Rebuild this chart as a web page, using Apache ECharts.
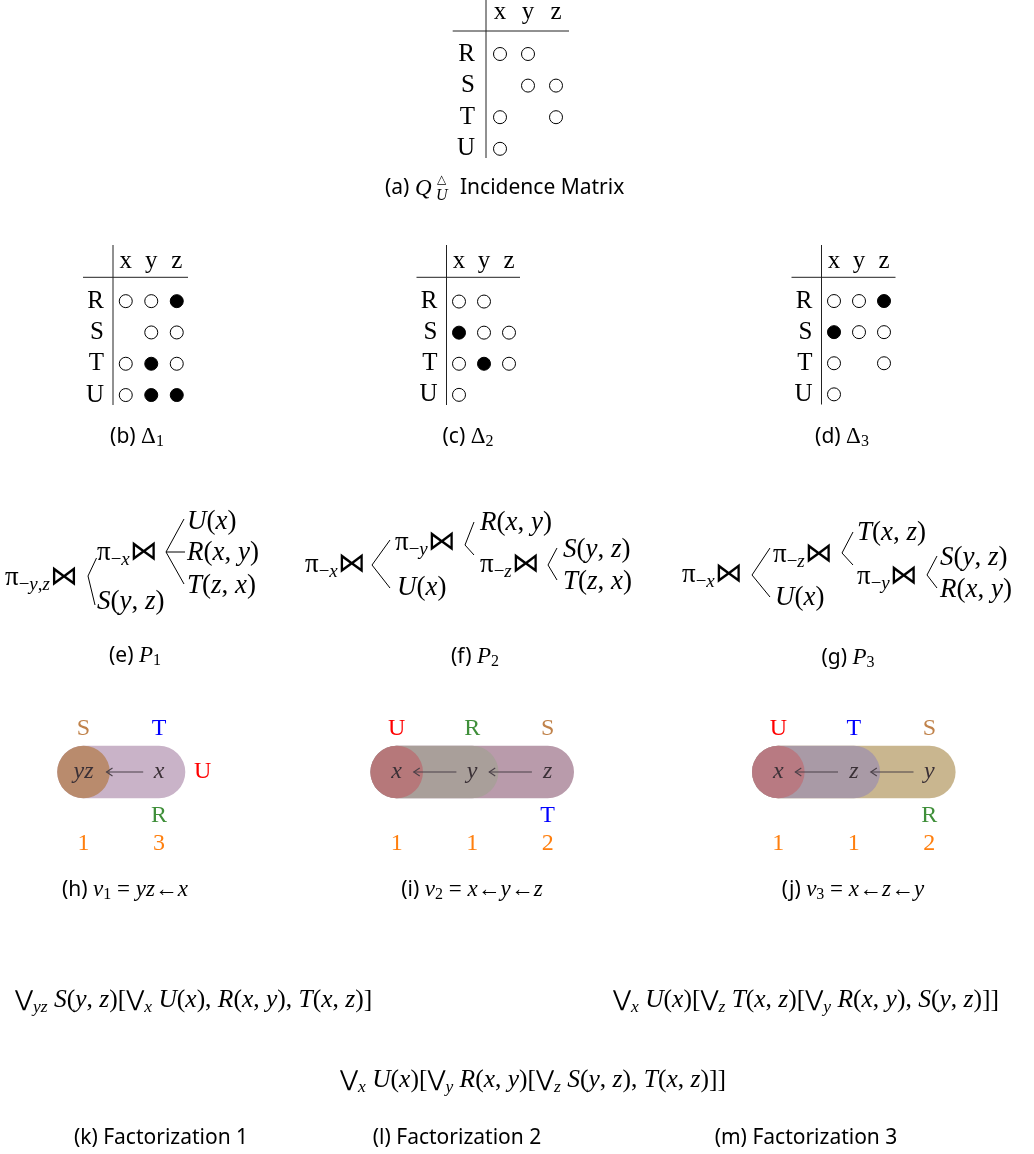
<!DOCTYPE html>
<html><head><meta charset="utf-8">
<script src="https://cdn.jsdelivr.net/npm/echarts@6.0.0/dist/echarts.min.js"></script>
<style>html,body{margin:0;padding:0;background:#fff;}#chart{width:1034px;height:1154px;}</style>
</head><body><div id="chart"></div>
<script>
// ================= DATA =================
const matrixCols = ['x', 'y', 'z'];
const matrixRows = ['R', 'S', 'T', 'U'];
// cells: [column, row, 1 = filled, 0 = open]
const cellsQ  = [['x','R',0],['y','R',0],['y','S',0],['z','S',0],['x','T',0],['z','T',0],['x','U',0]];
const cellsD1 = [['x','R',0],['y','R',0],['z','R',1],['y','S',0],['z','S',0],['x','T',0],['y','T',1],['z','T',0],['x','U',0],['y','U',1],['z','U',1]];
const cellsD2 = [['x','R',0],['y','R',0],['x','S',1],['y','S',0],['z','S',0],['x','T',0],['y','T',1],['z','T',0],['x','U',0]];
const cellsD3 = [['x','R',0],['y','R',0],['z','R',1],['x','S',1],['y','S',0],['z','S',0],['x','T',0],['z','T',0],['x','U',0]];

const treeP1 = ['π_{−y,z}⋈', 'π_{−x}⋈', 'S(y, z)', 'U(x)', 'R(x, y)', 'T(z, x)'];
const treeP2 = ['π_{−x}⋈', 'π_{−y}⋈', 'U(x)', 'R(x, y)', 'π_{−z}⋈', 'S(y, z)', 'T(z, x)'];
const treeP3 = ['π_{−x}⋈', 'π_{−z}⋈', 'U(x)', 'T(x, z)', 'π_{−y}⋈', 'S(y, z)', 'R(x, y)'];

// hypergraphs: nodes, hyperedges [from,to], arrows [from,to], relation labels [name,node,side], counts
const hg1Nodes = ['yz', 'x'];
const hg1Edges = [[0, 1], [0, 0]];
const hg1Arrows = [[1, 0]];
const hg1Labels = [['S', 0, 'top'], ['T', 1, 'top'], ['U', 1, 'right'], ['R', 1, 'bottom']];
const hg1Counts = [1, 3];

const hg2Nodes = ['x', 'y', 'z'];
const hg2Edges = [[0, 2], [0, 1], [0, 0]];
const hg2Arrows = [[1, 0], [2, 1]];
const hg2Labels = [['U', 0, 'top'], ['R', 1, 'top'], ['S', 2, 'top'], ['T', 2, 'bottom']];
const hg2Counts = [1, 1, 2];

const hg3Nodes = ['x', 'z', 'y'];
const hg3Edges = [[0, 2], [0, 1], [0, 0]];
const hg3Arrows = [[1, 0], [2, 1]];
const hg3Labels = [['U', 0, 'top'], ['T', 1, 'top'], ['S', 2, 'top'], ['R', 2, 'bottom']];
const hg3Counts = [1, 1, 2];

const factorK = '⋁_{yz} S(y, z)[⋁_x U(x), R(x, y), T(x, z)]';
const factorL = '⋁_x U(x)[⋁_y R(x, y)[⋁_z S(y, z), T(x, z)]]';
const factorM = '⋁_x U(x)[⋁_z T(x, z)[⋁_y R(x, y), S(y, z)]]';

const captionTags = ['(a)','(b)','(c)','(d)','(e)','(f)','(g)','(h)','(i)','(j)','(k)','(l)','(m)'];
const captionMath = ['', 'Δ_1', 'Δ_2', 'Δ_3', 'P_1', 'P_2', 'P_3', 'v_1 = yz←x', 'v_2 = x←y←z', 'v_3 = x←z←y', '', '', ''];
const captionText = ['Incidence Matrix', '', '', '', '', '', '', '', '', '', 'Factorization 1', 'Factorization 2', 'Factorization 3'];

// ================= STYLE =================
const SERIF = '"Liberation Serif", "DejaVu Serif", serif';
const SANS = '"Noto Sans", "Open Sans", sans-serif';
const SYM = '"DejaVu Sans", sans-serif';
const relColor = { U: '#ff0000', R: '#3f8f3a', S: '#c0824a', T: '#0000ff' };
const countColor = '#ff7f0e';
const hgFills = [
  ['#c9b3c8', '#b98b6d'],
  ['#b99bab', '#a99f9a', '#b6787a'],
  ['#c9b68f', '#a99aa6', '#b87a82']
];

function richSet(P, size, sub, shift, bsize) {
  const o = {};
  o[P + 'i'] = { fontFamily: SERIF, fontStyle: 'italic', fontSize: size, color: '#000', verticalAlign: 'middle' };
  o[P + 'r'] = { fontFamily: SERIF, fontSize: size, color: '#000', verticalAlign: 'middle' };
  o[P + 'b'] = { fontFamily: SYM, fontSize: bsize, color: '#000', verticalAlign: 'middle' };
  o[P + 'si'] = { fontFamily: SERIF, fontStyle: 'italic', fontSize: sub, color: '#000', verticalAlign: 'middle', padding: [shift * 2, 0, 0, 0] };
  o[P + 'sr'] = { fontFamily: SERIF, fontSize: sub, color: '#000', verticalAlign: 'middle', padding: [shift * 2, 0, 0, 0] };
  return o;
}
const RICH = Object.assign({ c: { fontFamily: SANS, fontSize: 21, color: '#000', verticalAlign: 'middle' } },
  richSet('T', 27, 19, 7, 28), richSet('F', 25.5, 17.5, 7, 22), richSet('K', 23, 16, 5, 23));

function fm(s, P) {
  const toks = [];
  const push = (st, t) => {
    if (toks.length && toks[toks.length - 1][0] === st) toks[toks.length - 1][1] += t;
    else toks.push([st, t]);
  };
  let i = 0;
  while (i < s.length) {
    const ch = s[i];
    if (ch === '_') {
      let t;
      if (s[i + 1] === '{') { const j = s.indexOf('}', i); t = s.slice(i + 2, j); i = j + 1; }
      else { t = s[i + 1]; i += 2; }
      for (const c of t) push(/[a-zA-Z]/.test(c) ? 'si' : 'sr', c);
      continue;
    }
    if (/[a-zA-Z]/.test(ch)) push('i', ch);
    else if (ch === '⋁' || ch === '⋈') push('b', ch);
    else push('r', ch);
    i++;
  }
  return toks.map(t => '{' + P + t[0] + '|' + t[1] + '}').join('');
}

const G = [];
function txt(x, y, text, align) {
  G.push({ type: 'text', x: x, y: y, silent: true,
    style: { text: text, rich: RICH, textAlign: align || 'left', textVerticalAlign: 'middle' } });
}
function ln(x1, y1, x2, y2, color) {
  G.push({ type: 'line', silent: true, shape: { x1, y1, x2, y2 }, style: { stroke: color || '#000', lineWidth: 1 } });
}

// ================= MATRICES =================
const matrixPanels = [
  { cells: cellsQ,  left: 486,   top: 38.2,  cw: 28,   rh: 31.6, padB: 13, lineUp: 38.2, lineDown: 6.6, hGap: 7.2, hLeft: 33.3, hRight: 1, margin: 11, topMargin: 13 },
  { cells: cellsD1, left: 113,   top: 285.5, cw: 25.5, rh: 31.3, padB: 4, lineUp: 40.5, lineDown: 5.7, hGap: 8.2, hLeft: 30, hRight: 1.5, margin: 9, topMargin: 12 },
  { cells: cellsD2, left: 446.5, top: 286,   cw: 25,   rh: 31.1, padB: 4, lineUp: 41, lineDown: 5.4, hGap: 8.7, hLeft: 30, hRight: 1.5, margin: 9, topMargin: 12 },
  { cells: cellsD3, left: 821.5, top: 285.5, cw: 25,   rh: 31.1, padB: 4, lineUp: 40.5, lineDown: 5.4, hGap: 8.2, hLeft: 30, hRight: 1, margin: 9, topMargin: 12 }
];
const grids = [], xAxes = [], yAxes = [], series = [];
matrixPanels.forEach((p, k) => {
  const w = p.cw * matrixCols.length, h = p.rh * matrixRows.length;
  grids.push({ left: p.left, top: p.top, width: w, height: h, outerBoundsMode: 'none', containLabel: false });
  xAxes.push({ gridIndex: k, type: 'category', data: matrixCols, position: 'top',
    axisLine: { show: false }, axisTick: { show: false }, splitLine: { show: false },
    axisLabel: { interval: 0, margin: p.topMargin, fontFamily: SERIF, fontSize: 25, color: '#000' } });
  yAxes.push({ gridIndex: k, type: 'category', data: matrixRows, inverse: true,
    axisLine: { show: false }, axisTick: { show: false }, splitLine: { show: false },
    axisLabel: { interval: 0, margin: p.margin, fontFamily: SERIF, fontSize: 25, color: '#000', verticalAlign: 'middle', padding: [0, 0, p.padB, 0] } });
  series.push({ type: 'scatter', xAxisIndex: k, yAxisIndex: k, symbol: 'circle', symbolSize: 13, silent: true,
    itemStyle: { opacity: 1 },
    data: p.cells.map(c => ({ value: [c[0], c[1]], itemStyle: { color: c[2] ? '#000' : '#fff', borderColor: '#000', borderWidth: 1, opacity: 1 } })) });
  // table rules
  ln(p.left, p.top - p.lineUp, p.left, p.top + h - p.lineDown, '#222');
  ln(p.left - p.hLeft, p.top - p.hGap, p.left + w - p.hRight, p.top - p.hGap, '#222');
});

// ================= HYPERGRAPHS =================
const hgPanels = [
  { nodes: hg1Nodes, edges: hg1Edges, arrows: hg1Arrows, labels: hg1Labels, counts: hg1Counts, left: 8 },
  { nodes: hg2Nodes, edges: hg2Edges, arrows: hg2Arrows, labels: hg2Labels, counts: hg2Counts, left: 321.2 },
  { nodes: hg3Nodes, edges: hg3Edges, arrows: hg3Arrows, labels: hg3Labels, counts: hg3Counts, left: 702.8 }
];
const CAP_R = 26.3;
hgPanels.forEach((p, k) => {
  const gi = grids.length;
  grids.push({ left: p.left, top: 706, width: 302, height: 154, outerBoundsMode: 'none', containLabel: false });
  xAxes.push({ gridIndex: gi, type: 'value', min: -1, max: 3, show: false });
  yAxes.push({ gridIndex: gi, type: 'value', min: -2, max: 1.5, show: false });
  const fills = hgFills[k];
  series.push({ type: 'custom', xAxisIndex: gi, yAxisIndex: gi, silent: true,
    data: p.edges.map(e => [e[0], 0, e[1]]),
    renderItem: (params, api) => {
      const e = p.edges[params.dataIndex];
      const a = api.coord([e[0], 0]), b = api.coord([e[1], 0]);
      return { type: 'rect', shape: { x: a[0] - CAP_R, y: a[1] - CAP_R, width: b[0] - a[0] + 2 * CAP_R, height: 2 * CAP_R, r: CAP_R },
        style: { fill: fills[params.dataIndex] } };
    } });
  series.push({ type: 'custom', xAxisIndex: gi, yAxisIndex: gi, silent: true,
    data: p.arrows.map(a => [a[0], 0, a[1]]),
    renderItem: (params, api) => {
      const ar = p.arrows[params.dataIndex];
      const s = api.coord([ar[0], 0]), t = api.coord([ar[1], 0]);
      const x1 = s[0] - 15.8, x2 = t[0] + 11 + 6 * p.nodes[ar[1]].length, y = s[1];
      return { type: 'group', children: [
        { type: 'line', shape: { x1: x1, y1: y, x2: x2, y2: y }, style: { stroke: '#4a4048', lineWidth: 1.2 } },
        { type: 'polyline', shape: { points: [[x2 + 6, y - 4], [x2, y], [x2 + 6, y + 4]] }, style: { stroke: '#4a4048', lineWidth: 1.1, fill: null } }
      ] };
    } });
  const items = [];
  p.nodes.forEach((n, i) => items.push({ t: n, x: i, y: 0, kind: 'node' }));
  p.labels.forEach(l => {
    const pos = l[2] === 'top' ? [l[1], 0.98] : l[2] === 'bottom' ? [l[1], -1.0] : [l[1] + 0.58, 0];
    items.push({ t: l[0], x: pos[0], y: pos[1], kind: 'rel' });
  });
  p.counts.forEach((c, i) => items.push({ t: String(c), x: i, y: -1.62, kind: 'count' }));
  series.push({ type: 'custom', xAxisIndex: gi, yAxisIndex: gi, silent: true,
    data: items.map(it => [it.x, it.y]),
    renderItem: (params, api) => {
      const it = items[params.dataIndex];
      const c = api.coord([it.x, it.y]);
      const st = { text: it.t, textAlign: 'center', textVerticalAlign: 'middle', fontFamily: SERIF, fontSize: 24 };
      if (it.kind === 'node') { st.fontStyle = 'italic'; st.fill = '#3a3036'; }
      else if (it.kind === 'rel') st.fill = relColor[it.t];
      else st.fill = countColor;
      return { type: 'text', x: c[0], y: c[1], style: st };
    } });
});

// ================= TREES =================
function drawTree(labels, pos, lines) {
  labels.forEach((l, i) => txt(pos[i][0], pos[i][1], fm(l, 'T')));
  lines.forEach(s => ln(s[0], s[1], s[2], s[3]));
}
drawTree(treeP1,
  [[5, 578], [97, 553], [97, 602], [187, 522], [187, 553], [187, 586]],
  [[88, 576, 96.5, 558], [88, 576, 95, 605], [166, 552, 184, 519], [166, 552, 185, 552], [166, 552, 184, 584]]);
drawTree(treeP2,
  [[305, 565], [395, 543], [397, 588], [480, 523], [480, 565], [563, 550], [563, 582]],
  [[372, 565, 390, 540], [372, 565, 390, 588], [465, 545, 474, 522], [465, 545, 474, 555], [548, 565, 557, 548], [548, 565, 557, 580]]);
drawTree(treeP3,
  [[682, 575], [773, 555], [775, 598], [857, 533], [857, 577], [940, 558], [940, 590]],
  [[752, 575, 770, 548], [752, 575, 770, 597], [842, 553, 853, 532], [842, 553, 853, 565], [927, 575, 937, 556], [927, 575, 937, 588]]);

// ================= FORMULAS =================
txt(15, 1000, fm(factorK, 'F'));
txt(613, 1000, fm(factorM, 'F'));
txt(340, 1080, fm(factorL, 'F'));

// ================= CAPTIONS =================
const capPos = [null, [137, 437], [468, 437], [842, 437], [135, 656], [475, 657], [848, 658], [125, 890], [472, 890], [853, 890], [161, 1138], [457, 1138], [806, 1138]];
for (let k = 1; k < captionTags.length; k++) {
  let s = '{c|' + captionTags[k] + ' }';
  if (captionMath[k]) s += fm(captionMath[k], 'K');
  if (captionText[k]) s += '{c|' + captionText[k] + '}';
  txt(capPos[k][0], capPos[k][1], s, 'center');
}
// caption (a) with stacked super/subscript
txt(385, 188, '{c|' + captionTags[0] + '}');
txt(415, 189, '{Ki|Q}');
G.push({ type: 'text', x: 437, y: 180, silent: true, style: { text: '△', fontFamily: SYM, fontSize: 12, fill: '#000', textAlign: 'left', textVerticalAlign: 'middle' } });
G.push({ type: 'text', x: 436, y: 196, silent: true, style: { text: 'U', fontFamily: SERIF, fontStyle: 'italic', fontSize: 16, fill: '#000', textAlign: 'left', textVerticalAlign: 'middle' } });
txt(460, 188, '{c|' + captionText[0] + '}');

const chart = echarts.init(document.getElementById('chart'), null, { renderer: 'canvas' });
chart.setOption({
  animation: false,
  backgroundColor: '#fff',
  grid: grids, xAxis: xAxes, yAxis: yAxes, series: series,
  graphic: { elements: G }
});
</script></body></html>
